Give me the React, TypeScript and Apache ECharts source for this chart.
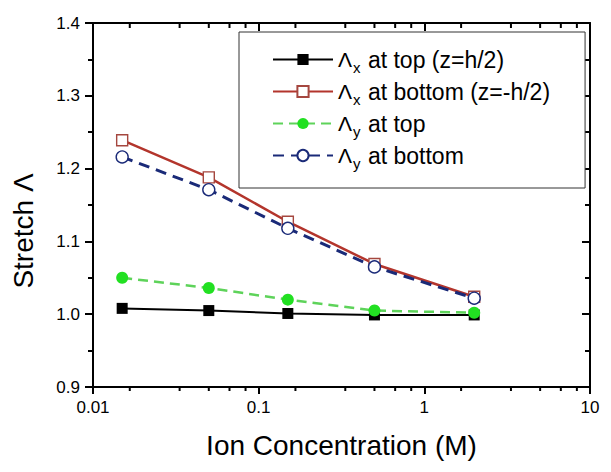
import React, { useEffect, useRef } from "react";
import * as echarts from "echarts";

const concentrations = [0.015, 0.05, 0.15, 0.5, 2];
const lambdaXTop = [1.008, 1.005, 1.001, 0.999, 0.999];
const lambdaXBottom = [1.239, 1.188, 1.127, 1.069, 1.024];
const lambdaYTop = [1.05, 1.036, 1.02, 1.005, 1.002];
const lambdaYBottom = [1.216, 1.171, 1.118, 1.065, 1.022];

const seriesNames = [
  "Λx at top (z=h/2)",
  "Λx at bottom (z=-h/2)",
  "Λy at top",
  "Λy at bottom",
];

const X_MIN = 0.01;
const X_MAX = 10;
const Y_MIN = 0.9;
const Y_MAX = 1.4;
const Y_INTERVAL = 0.1;
const xMinorTicks = [
  0.01667, 0.03333, 0.05, 0.06667, 0.08333,
  0.1667, 0.3333, 0.5, 0.6667, 0.8333,
  1.667, 3.333, 5, 6.667, 8.333,
];

const FONT = "'Liberation Sans', Arial, Helvetica, sans-serif";

export default function App() {
  const ref = useRef<HTMLDivElement>(null);

  useEffect(() => {
    if (!ref.current) return;
    const chart = echarts.init(ref.current, null, { renderer: "svg" });
    const pairs = (ys: number[]) => concentrations.map((x, i) => [x, ys[i]]);

    const axisLine = { show: true, lineStyle: { color: "#000", width: 2 } };

    chart.setOption({
      animation: false,
      backgroundColor: "#fff",
      grid: {
        left: 93,
        right: 21,
        top: 23,
        bottom: 85,
        containLabel: false,
        outerBoundsMode: "none",
      },
      legend: {
        orient: "vertical",
        left: 239,
        top: 32,
        padding: [12, 35, 17, 33],
        itemWidth: 60,
        itemHeight: 14,
        itemGap: 1,
        borderColor: "#333",
        borderWidth: 1,
        backgroundColor: "#fff",
        data: seriesNames,
        selectedMode: false,
        formatter: (name: string) =>
          `{l|Λ}{s|${name[1]}}{t|${name.slice(2)}}`,
        textStyle: {
          color: "#000",
          fontFamily: FONT,
          fontSize: 23,
          rich: {
            l: { fontSize: 21, fontFamily: FONT, color: "#000", lineHeight: 24 },
            s: {
              fontSize: 15,
              fontFamily: FONT,
              color: "#000",
              lineHeight: 14,
              padding: [16, 1, 0, 1],
            },
            t: { fontSize: 23, fontFamily: FONT, color: "#000", lineHeight: 24 },
          },
        },
      },
      xAxis: [
        {
          type: "log",
          logBase: 10,
          min: X_MIN,
          max: X_MAX,
          position: "bottom",
          name: "Ion Concentration (M)",
          nameLocation: "middle",
          nameGap: 44,
          nameTextStyle: { fontSize: 28, fontFamily: FONT, color: "#000" },
          axisLine,
          axisTick: { show: true, inside: false, length: 7, lineStyle: { width: 2, color: "#000" } },
          axisLabel: {
            show: true,
            fontSize: 17,
            fontFamily: FONT,
            color: "#000",
            margin: 12,
            formatter: (v: number) => String(+v.toPrecision(3)),
          },
          splitLine: { show: false },
          minorTick: { show: false },
        },
        {
          type: "log",
          logBase: 10,
          min: X_MIN,
          max: X_MAX,
          position: "top",
          axisLine,
          axisTick: { show: true, inside: true, length: 8, lineStyle: { width: 2, color: "#000" } },
          axisLabel: { show: false },
          splitLine: { show: false },
        },
      ],
      yAxis: [
        {
          type: "value",
          min: Y_MIN,
          max: Y_MAX,
          interval: Y_INTERVAL,
          position: "left",
          name: "Stretch Λ",
          nameLocation: "middle",
          nameGap: 56,
          nameTextStyle: {
            fontSize: 28,
            fontFamily: FONT,
            color: "#000",
            padding: [0, 52, 0, 0],
          },
          axisLine,
          axisTick: { show: true, inside: false, length: 8, lineStyle: { width: 2, color: "#000" } },
          minorTick: { show: true, splitNumber: 2, length: 5, lineStyle: { width: 2, color: "#000" } },
          axisLabel: {
            fontSize: 17,
            fontFamily: FONT,
            color: "#000",
            margin: 13,
            formatter: (v: number) => v.toFixed(1),
          },
          splitLine: { show: false },
        },
        {
          type: "value",
          min: Y_MIN,
          max: Y_MAX,
          interval: Y_INTERVAL,
          position: "right",
          axisLine,
          axisTick: { show: true, inside: true, length: 8, lineStyle: { width: 2, color: "#000" } },
          minorTick: { show: true, splitNumber: 2, length: 5, lineStyle: { width: 2, color: "#000" } },
          axisLabel: { show: false },
          splitLine: { show: false },
        },
      ],
      series: [
        {
          name: seriesNames[0],
          type: "line",
          data: pairs(lambdaXTop),
          symbol: "rect",
          symbolSize: 11,
          lineStyle: { color: "#000", width: 2, type: "solid" },
          itemStyle: { color: "#000" },
          z: 3,
        },
        {
          name: seriesNames[1],
          type: "line",
          data: pairs(lambdaXBottom),
          symbol: "rect",
          symbolSize: 11,
          lineStyle: { color: "#b3352c", width: 2.5, type: "solid" },
          itemStyle: { color: "#fff", borderColor: "#a5473f", borderWidth: 1.4 },
          z: 3,
        },
        {
          name: seriesNames[2],
          type: "line",
          data: pairs(lambdaYTop),
          symbol: "circle",
          symbolSize: 12,
          lineStyle: { color: "#5ed35a", width: 2.5, type: [10, 6] },
          itemStyle: { color: "#22e022", borderWidth: 0 },
          z: 3,
        },
        {
          name: seriesNames[3],
          type: "line",
          data: pairs(lambdaYBottom),
          symbol: "circle",
          symbolSize: 12,
          lineStyle: { color: "#1a2a78", width: 3, type: [11, 7] },
          itemStyle: { color: "#fff", borderColor: "#1a2a78", borderWidth: 1.4 },
          z: 3,
        },
        {
          name: "minorTicks",
          type: "custom",
          silent: true,
          clip: false,
          xAxisIndex: 0,
          yAxisIndex: 0,
          data: xMinorTicks.map((v) => [v, Y_MIN]),
          encode: { x: 0, y: 1 },
          z: 5,
          renderItem: (_params: any, api: any) => {
            const v = api.value(0);
            const b = api.coord([v, Y_MIN]);
            const t = api.coord([v, Y_MAX]);
            const style = { stroke: "#000", lineWidth: 2 };
            return {
              type: "group",
              children: [
                { type: "line", shape: { x1: b[0], y1: b[1], x2: b[0], y2: b[1] + 4 }, style },
                { type: "line", shape: { x1: t[0], y1: t[1], x2: t[0], y2: t[1] + 5 }, style },
              ],
            };
          },
        },
      ],
    });

    return () => chart.dispose();
  }, []);

  return (
    <div
      ref={ref}
      style={{ position: "absolute", left: 0, top: 0, width: 611, height: 472, background: "#fff" }}
    />
  );
}
